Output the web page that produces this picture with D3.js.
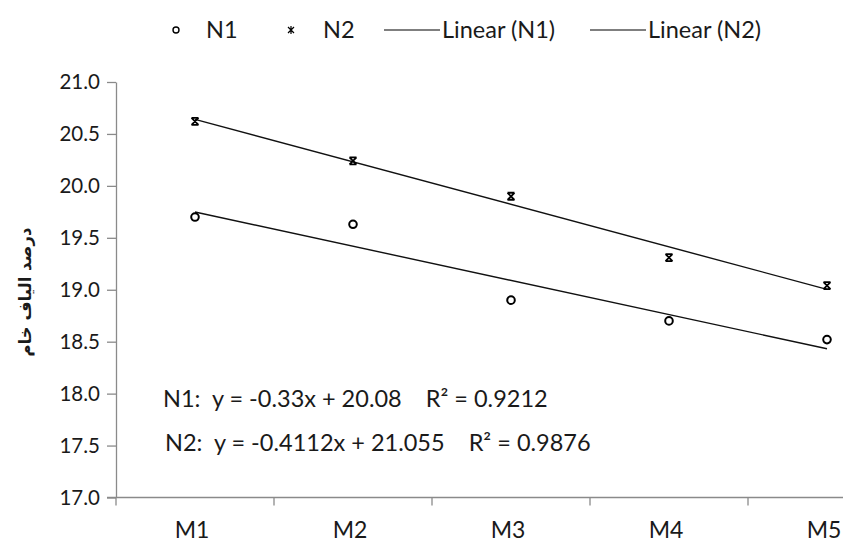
<!DOCTYPE html>
<html>
<head>
<meta charset="utf-8">
<script src="https://cdn.jsdelivr.net/npm/d3@7"></script>
<style>
  body { margin: 0; background: #fff; }
  svg { display: block; }
  text { font-family: Lato, "Open Sans", sans-serif; fill: #1a1a1a; }
</style>
</head>
<body>
<svg id="chart" width="843" height="543"></svg>
<script>
// ---- data ----
const categories = ["M1", "M2", "M3", "M4", "M5"];
const seriesN1 = [19.70, 19.63, 18.90, 18.70, 18.52];
const seriesN2 = [20.62, 20.24, 19.90, 19.31, 19.04];
const yTicks = [17.0, 17.5, 18.0, 18.5, 19.0, 19.5, 20.0, 20.5, 21.0];
const legendLabels = ["N1", "N2", "Linear (N1)", "Linear (N2)"];
const equationLabels = [
  "N1:  y = -0.33x + 20.08    R\u00B2 = 0.9212",
  "N2:  y = -0.4112x + 21.055    R\u00B2 = 0.9876"
];
const yTitle = "درصد الیاف خام";

// ---- layout ----
const svg = d3.select("#chart");
const x = d3.scaleBand().domain(categories).range([116, 906]);
const y = d3.scaleLinear().domain([17, 21]).range([497.5, 82]);
const cx = d => x(d) + x.bandwidth() / 2;
const axisColor = "#8a8a8a";

// y axis
const yAxis = svg.append("g")
  .attr("transform", "translate(116,0)")
  .call(d3.axisLeft(y).tickValues(yTicks).tickFormat(d3.format(".1f")).tickSize(9).tickSizeOuter(0).tickPadding(7));
yAxis.select(".domain").attr("stroke", axisColor).attr("stroke-width", 1.3);
yAxis.selectAll(".tick line").attr("stroke", axisColor).attr("stroke-width", 1.3);
yAxis.selectAll(".tick text").attr("font-size", 20.5).attr("font-family", "Lato, sans-serif").attr("fill", "#1a1a1a");

// x axis
const xg = svg.append("g");
xg.append("line")
  .attr("x1", 107).attr("x2", 843)
  .attr("y1", y(17)).attr("y2", y(17))
  .attr("stroke", axisColor).attr("stroke-width", 1.3);
xg.selectAll("line.xt").data(categories).enter().append("line")
  .attr("class", "xt")
  .attr("x1", d => x(d)).attr("x2", d => x(d))
  .attr("y1", y(17)).attr("y2", y(17) + 8)
  .attr("stroke", axisColor).attr("stroke-width", 1.3);
xg.selectAll("text").data(categories).enter().append("text")
  .attr("x", d => cx(d) - 3).attr("y", 538)
  .attr("text-anchor", "middle").attr("font-size", 23)
  .text(d => d);

// y title
svg.append("text")
  .attr("transform", "translate(31,292) rotate(-90)")
  .attr("text-anchor", "middle")
  .attr("font-weight", "bold").attr("font-size", 16.5)
  .style("font-family", "'DejaVu Sans', sans-serif")
  .text(yTitle);

// trendlines (least squares over category index 1..5)
function fit(vals) {
  const xs = vals.map((_, i) => i + 1);
  const mx = d3.mean(xs), my = d3.mean(vals);
  const b = d3.sum(xs.map((xi, i) => (xi - mx) * (vals[i] - my))) / d3.sum(xs.map(xi => (xi - mx) ** 2));
  return { b, a: my - b * mx };
}
[seriesN1, seriesN2].forEach(vals => {
  const f = fit(vals);
  svg.append("line")
    .attr("x1", cx(categories[0])).attr("y1", y(f.a + f.b * 1))
    .attr("x2", cx(categories[categories.length - 1])).attr("y2", y(f.a + f.b * categories.length))
    .attr("stroke", "#111").attr("stroke-width", 1.4);
});

// markers
const starPath = s => `M${-s},${-s}L${s},${s}M${s},${-s}L${-s},${s}M${-s},${-s}L${s},${-s}M${-s},${s}L${s},${s}`;
svg.selectAll("circle.n1").data(seriesN1).enter().append("circle")
  .attr("class", "n1")
  .attr("cx", (d, i) => cx(categories[i])).attr("cy", d => y(d))
  .attr("r", 3.8).attr("fill", "#fff").attr("stroke", "#000").attr("stroke-width", 2);
svg.selectAll("path.n2").data(seriesN2).enter().append("path")
  .attr("class", "n2")
  .attr("transform", (d, i) => `translate(${cx(categories[i])},${y(d)})`)
  .attr("d", starPath(3.5))
  .attr("fill", "none").attr("stroke", "#000").attr("stroke-width", 1.8);

// equations
svg.selectAll("text.eq").data(equationLabels).enter().append("text")
  .attr("class", "eq")
  .attr("x", (d, i) => i === 0 ? 163 : 165).attr("y", (d, i) => i === 0 ? 407 : 451)
  .attr("font-size", 23.5)
  .attr("xml:space", "preserve").style("white-space", "pre")
  .text(d => d);

// legend
const lg = svg.append("g");
lg.append("circle").attr("cx", 176).attr("cy", 30).attr("r", 3).attr("fill", "#fff").attr("stroke", "#000").attr("stroke-width", 1.4);
lg.append("text").attr("x", 206).attr("y", 38).attr("font-size", 23.5).text(legendLabels[0]);
lg.append("path").attr("transform", "translate(291,30)").attr("d", "M-3,-3L3,3M3,-3L-3,3M0,-4L0,4").attr("stroke", "#000").attr("stroke-width", 1.2).attr("fill", "none");
lg.append("text").attr("x", 323).attr("y", 38).attr("font-size", 23.5).text(legendLabels[1]);
lg.append("line").attr("x1", 384).attr("x2", 440).attr("y1", 30).attr("y2", 30).attr("stroke", "#000").attr("stroke-width", 1.2);
lg.append("text").attr("x", 442).attr("y", 38).attr("font-size", 23.5).text(legendLabels[2]);
lg.append("line").attr("x1", 590).attr("x2", 646).attr("y1", 30).attr("y2", 30).attr("stroke", "#000").attr("stroke-width", 1.2);
lg.append("text").attr("x", 648).attr("y", 38).attr("font-size", 23.5).text(legendLabels[3]);
</script>
</body>
</html>
